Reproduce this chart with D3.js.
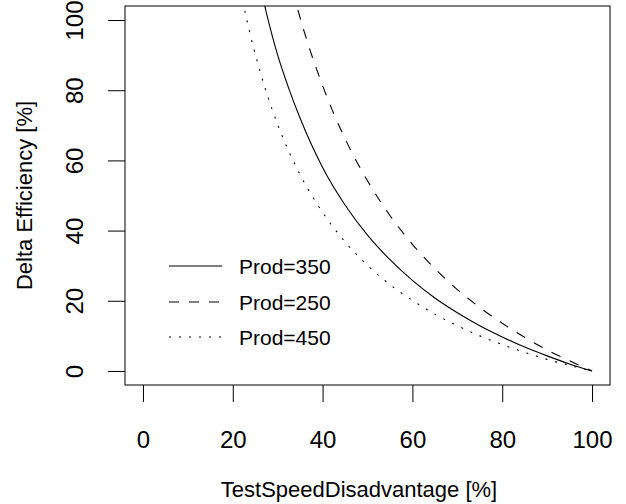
<!DOCTYPE html>
<html>
<head>
<meta charset="utf-8">
<script src="https://cdn.jsdelivr.net/npm/d3@7"></script>
<style>
body{margin:0;background:#fff;}
text{font-family:"Liberation Sans",Arial,Helvetica,sans-serif;fill:#000;}
</style>
</head>
<body>
<script>
//values
var speed=[17.5,20,22.5,25,27.5,30,32.5,35,40,45,50,55,60,65,70,75,80,85,90,95,100];
var prod350=[182,155,133,116,102,90,80.4,72,58,47.3,38.7,31.7,25.8,20.8,16.6,12.9,9.7,6.8,4.3,2.0,0];
var prod250=[255,217,187,163,143,126.5,112.6,100.6,81.3,66.2,54.2,44.3,36.1,29.2,23.2,18.1,13.6,9.6,6.0,2.9,0];
var prod450=[142,120.4,103.7,90.3,79.4,70.2,62.5,55.9,45.2,36.8,30.1,24.6,20.1,16.2,12.9,10.0,7.5,5.3,3.3,1.6,0];
var seriesNames=["Prod=350","Prod=250","Prod=450"];
var xTicks=[0,20,40,60,80,100];
var yTicks=[0,20,40,60,80,100];

//plot frame (window.top is reserved, so use other names)
var width=626,height=504;
var boxLeft=125,boxRight=610,boxTop=6,boxBottom=385;

var svg=d3.select("body")
	.append("svg")
	.attr("width",width)
	.attr("height",height);

//R style axes, range padded by 4%
var x=d3.scaleLinear().domain([-4,104]).range([boxLeft,boxRight]);
var y=d3.scaleLinear().domain([-4,104]).range([boxBottom,boxTop]);

//clip the curves to the box
svg.append("clipPath")
	.attr("id","plotclip")
	.append("rect")
	.attr("x",boxLeft)
	.attr("y",boxTop)
	.attr("width",boxRight-boxLeft)
	.attr("height",boxBottom-boxTop);

var line=d3.line()
	.x(function(d){return x(d[0]);})
	.y(function(d){return y(d[1]);})
	.curve(d3.curveMonotoneX);

var series=[
	{name:seriesNames[0],values:prod350,dash:null},
	{name:seriesNames[1],values:prod250,dash:"10,10"},
	{name:seriesNames[2],values:prod450,dash:"2,8"}
];

svg.append("g")
	.attr("clip-path","url(#plotclip)")
	.selectAll(".curve")
	.data(series)
	.enter()
	.append("path")
	.attr("class","curve")
	.attr("fill","none")
	.attr("stroke","#000")
	.attr("stroke-width",1.1)
	.attr("stroke-dasharray",function(d){return d.dash;})
	.attr("d",function(d){
		return line(speed.map(function(s,i){return [s,d.values[i]];}));
	});

//box around the plot
svg.append("rect")
	.attr("x",boxLeft)
	.attr("y",boxTop)
	.attr("width",boxRight-boxLeft)
	.attr("height",boxBottom-boxTop)
	.attr("fill","none")
	.attr("stroke","#000")
	.attr("stroke-width",1);

//x axis
var xAxis=svg.append("g")
	.attr("transform","translate(0,"+boxBottom+")")
	.call(d3.axisBottom(x).tickValues(xTicks).tickSize(17));
xAxis.select(".domain").remove();
xAxis.selectAll("line").attr("stroke","#000");
xAxis.selectAll("text")
	.attr("y",63)
	.attr("dy",null)
	.style("font-size","24px");

//y axis with vertical labels
var yAxis=svg.append("g")
	.attr("transform","translate("+boxLeft+",0)")
	.call(d3.axisLeft(y).tickValues(yTicks).tickSize(17));
yAxis.select(".domain").remove();
yAxis.selectAll("line").attr("stroke","#000");
yAxis.selectAll("text")
	.attr("x",0)
	.attr("dy",null)
	.attr("text-anchor","middle")
	.attr("transform","translate(-42,0) rotate(-90)")
	.style("font-size","24px");

//axis titles
svg.append("text")
	.attr("x",359)
	.attr("y",497)
	.attr("text-anchor","middle")
	.style("font-size","22px")
	.text("TestSpeedDisadvantage [%]");

svg.append("text")
	.attr("transform","translate(32,"+((boxTop+boxBottom)/2)+") rotate(-90)")
	.attr("text-anchor","middle")
	.style("font-size","22px")
	.text("Delta Efficiency [%]");

//legend
var legendY=[266,302,337];
var legend=svg.selectAll(".legend")
	.data(series)
	.enter()
	.append("g")
	.attr("class","legend")
	.attr("transform",function(d,i){return "translate(0,"+legendY[i]+")";});

legend.append("line")
	.attr("x1",169)
	.attr("x2",222)
	.attr("stroke","#000")
	.attr("stroke-width",1.1)
	.attr("stroke-dasharray",function(d){return d.dash;});

legend.append("text")
	.attr("x",239)
	.attr("y",8)
	.style("font-size","21px")
	.text(function(d){return d.name;});
</script>
</body>
</html>
